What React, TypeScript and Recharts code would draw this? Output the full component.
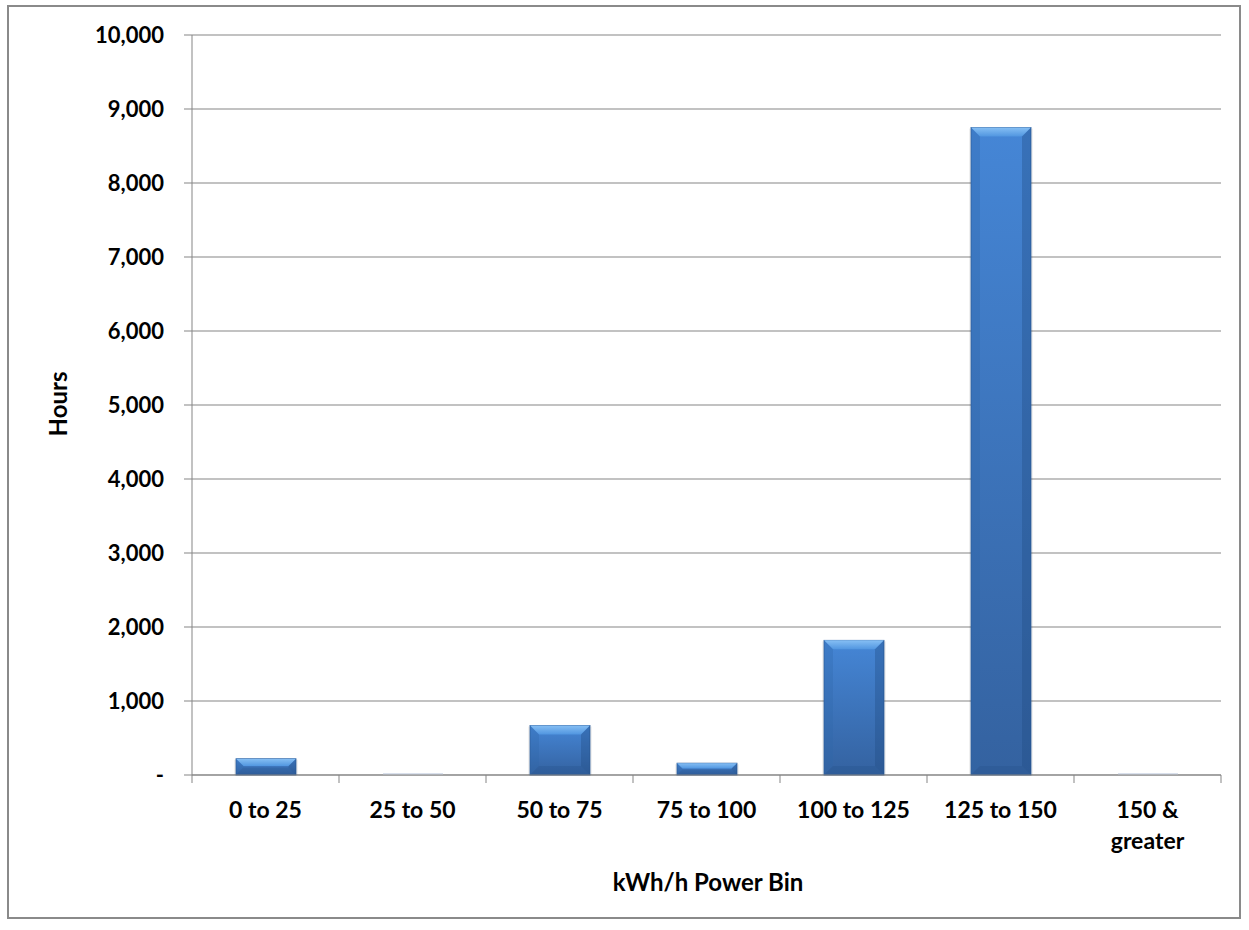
import { BarChart, Bar, XAxis, YAxis, CartesianGrid, Label } from 'recharts';

const bins = ['0 to 25', '25 to 50', '50 to 75', '75 to 100', '100 to 125', '125 to 150', '150 & greater'];
const hours = [220, 10, 670, 160, 1820, 8750, 10];
const yTicks = [0, 1000, 2000, 3000, 4000, 5000, 6000, 7000, 8000, 9000, 10000];

const data = bins.map((name, i) => ({ name, hours: hours[i] }));

const W = 1249;
const H = 930;
const M = { top: 35, right: 28, bottom: 0, left: 0 };
const Y_W = 192;
const X_H = 155;
const FONT = 'Lato, "Open Sans", sans-serif';
const AXIS = '#858585';
const band = (W - M.right - Y_W) / bins.length;

function BevelBar(props: any) {
  const { x, y, width, height } = props;
  if (height < 3) {
    return <rect x={x} y={y + height - 2} width={width} height={2} fill="#d9e0ec" />;
  }
  const b = Math.min(9, height / 2.2);
  return (
    <g>
      <rect x={x - 2} y={y + 1} width={width + 4} height={height - 1} fill="#000" opacity={0.06} />
      <rect x={x} y={y} width={width} height={height} fill="url(#barBody)" stroke="#2d5c98" strokeWidth={0.8} />
      <polygon
        points={`${x},${y} ${x + width},${y} ${x + width - b},${y + b} ${x + b},${y + b}`}
        fill="url(#barTop)"
      />
      <polygon
        points={`${x},${y} ${x + b},${y + b} ${x + b},${y + height - b} ${x},${y + height}`}
        fill="#2f66aa"
        opacity={0.3}
      />
      <polygon
        points={`${x + width},${y} ${x + width - b},${y + b} ${x + width - b},${y + height - b} ${x + width},${y + height}`}
        fill="#1f4a82"
        opacity={0.35}
      />
      <polygon
        points={`${x},${y + height} ${x + b},${y + height - b} ${x + width - b},${y + height - b} ${x + width},${y + height}`}
        fill="#1f4a82"
        opacity={0.25}
      />
    </g>
  );
}

function BinTick(props: any) {
  const { x, y, payload, index } = props;
  const words: string[] = payload.value === '150 & greater' ? ['150 &', 'greater'] : [payload.value];
  const left = x - band / 2;
  return (
    <g>
      <line x1={left} y1={y - 8} x2={left} y2={y} stroke={AXIS} />
      {index === bins.length - 1 && <line x1={x + band / 2} y1={y - 8} x2={x + band / 2} y2={y} stroke={AXIS} />}
      {words.map((w, i) => (
        <text
          key={i}
          x={x}
          y={y + 35 + i * 31}
          textAnchor="middle"
          fontFamily={FONT}
          fontWeight={700}
          fontSize={23}
          fill="#000"
        >
          {w}
        </text>
      ))}
    </g>
  );
}

const fmt = (v: number) => (v === 0 ? '-' : v.toLocaleString('en-US'));

export default function App() {
  return (
    <div style={{ position: 'absolute', left: 0, top: 0, width: W, height: H, background: '#fff' }}>
      <div
        style={{
          position: 'absolute',
          left: 7,
          top: 5,
          width: 1234,
          height: 914,
          border: '2px solid #8a8a8a',
          boxSizing: 'border-box',
        }}
      />
      <BarChart width={W} height={H} data={data} margin={M} barSize={60} style={{ position: 'absolute', left: 0, top: 0 }}>
        <defs>
          <linearGradient id="barBody" x1="0" y1="0" x2="0" y2="1">
            <stop offset="0%" stopColor="#4586d6" />
            <stop offset="100%" stopColor="#3462a0" />
          </linearGradient>
          <linearGradient id="barTop" x1="0" y1="0" x2="0" y2="1">
            <stop offset="0%" stopColor="#86bff4" />
            <stop offset="100%" stopColor="#5196e0" />
          </linearGradient>
        </defs>
        <CartesianGrid vertical={false} stroke={AXIS} strokeWidth={1.2} />
        <XAxis
          dataKey="name"
          height={X_H}
          stroke={AXIS}
          tickLine={false}
          interval={0}
          tick={<BinTick />}
        >
          <Label
            content={() => (
              <text x={708} y={891} textAnchor="middle" fontFamily={FONT} fontWeight={700} fontSize={24} fill="#000">
                kWh/h Power Bin
              </text>
            )}
          />
        </XAxis>
        <YAxis
          width={Y_W}
          domain={[0, 10000]}
          ticks={yTicks}
          interval={0}
          stroke={AXIS}
          tickSize={8}
          tickMargin={20}
          tickFormatter={fmt}
          tick={{ fontFamily: FONT, fontWeight: 700, fontSize: 22, fill: '#000' }}
        >
          <Label
            content={() => (
              <text
                x={67}
                y={404}
                transform="rotate(-90 67 404)"
                textAnchor="middle"
                fontFamily={FONT}
                fontWeight={700}
                fontSize={24}
                fill="#000"
              >
                Hours
              </text>
            )}
          />
        </YAxis>
        <Bar dataKey="hours" shape={<BevelBar />} isAnimationActive={false} />
      </BarChart>
    </div>
  );
}
